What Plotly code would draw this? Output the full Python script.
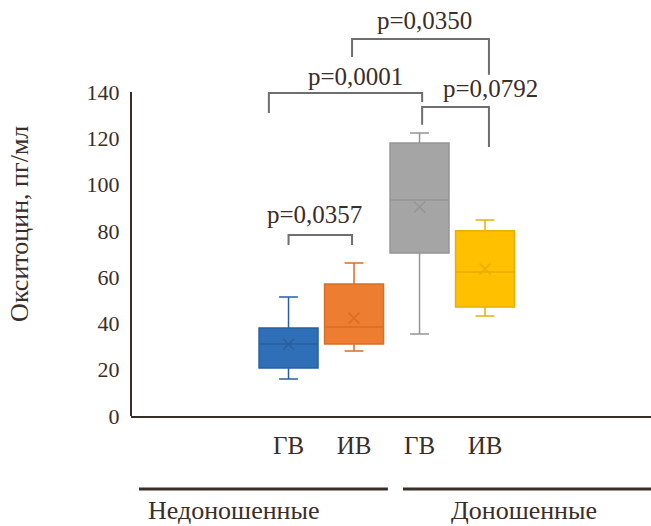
import plotly.graph_objects as go

# ---- data ----
tick_labels = ["ГВ", "ИВ", "ГВ", "ИВ"]
positions = [0, 1, 2, 3]
lower = [16.0, 28.1, 35.4, 43.2]
q1 = [20.7, 31.1, 70.4, 47.1]
median = [31.1, 38.5, 93.3, 62.2]
q3 = [38.0, 57.0, 118.0, 80.0]
upper = [51.4, 66.1, 122.3, 84.7]
means = [31.0, 42.3, 90.3, 63.5]
fills = ["#2E6FB7", "#ED7D31", "#A5A5A5", "#FFC000"]
lines = ["#28609F", "#D96E26", "#959595", "#E8AE05"]

group_names = ["Недоношенные", "Доношенные"]
y_ticks = [0, 20, 40, 60, 80, 100, 120, 140]

# brackets: x0, x1, top, left leg bottom, right leg bottom, label, label x, label y
brackets = [
    (0.0, 0.97, 78.2, 73.9, 73.9, "p=0,0357", 0.40, 86.9),
    (-0.30, 2.04, 139.6, 130.9, 135.7, "p=0,0001", 1.03, 146.6),
    (2.04, 3.06, 133.5, 125.8, 116.2, "p=0,0792", 3.09, 141.7),
    (0.97, 3.06, 162.9, 155.1, 147.4, "p=0,0350", 2.08, 171.1),
]

TXT = "#3A2E28"
FONT = "Liberation Serif, Times New Roman, serif"

fig = go.Figure()
for i in range(4):
    fig.add_trace(go.Box(
        x=[positions[i]], q1=[q1[i]], median=[median[i]], q3=[q3[i]],
        lowerfence=[lower[i]], upperfence=[upper[i]],
        width=0.9, whiskerwidth=0.32, boxpoints=False,
        fillcolor=fills[i], line=dict(color=lines[i], width=1.5),
        showlegend=False, hoverinfo="skip",
    ))
    fig.add_trace(go.Scatter(
        x=[positions[i]], y=[means[i]], mode="markers",
        marker=dict(symbol="x-thin", size=11, line=dict(color=lines[i], width=1.5)),
        showlegend=False, hoverinfo="skip",
    ))

shapes = []
shapes.append(dict(type="line", xref="paper", yref="y", x0=0, x1=0, y0=0, y1=140,
                   line=dict(color=TXT, width=2)))
for (x0, x1, top, lb, rb, lab, lx, ly) in brackets:
    shapes.append(dict(type="path", xref="x", yref="y",
                       path=f"M {x0},{lb} L {x0},{top} L {x1},{top} L {x1},{rb}",
                       line=dict(color="#6E6E6E", width=2)))
shapes.append(dict(type="line", xref="paper", yref="paper", x0=0.0154, x1=0.494,
                   y0=-0.180, y1=-0.180, line=dict(color=TXT, width=3)))
shapes.append(dict(type="line", xref="paper", yref="paper", x0=0.523, x1=1.0,
                   y0=-0.180, y1=-0.180, line=dict(color=TXT, width=3)))

annotations = []
for (x0, x1, top, lb, rb, lab, lx, ly) in brackets:
    annotations.append(dict(x=lx, y=ly, xref="x", yref="y", text=lab, showarrow=False,
                            xanchor="center", yanchor="middle",
                            font=dict(family=FONT, size=25, color=TXT)))
annotations.append(dict(x=0.198, y=-0.233, xref="paper", yref="paper", text=group_names[0],
                        xanchor="center", yanchor="middle",
                        showarrow=False, font=dict(family=FONT, size=26, color=TXT)))
annotations.append(dict(x=0.756, y=-0.233, xref="paper", yref="paper", text=group_names[1],
                        xanchor="center", yanchor="middle",
                        showarrow=False, font=dict(family=FONT, size=26, color=TXT)))
annotations.append(dict(x=-0.2135, y=83, xref="paper", yref="y", text="Окситоцин, пг/мл",
                        textangle=-90, showarrow=False, xanchor="center", yanchor="middle",
                        font=dict(family=FONT, size=26, color=TXT)))

fig.update_layout(
    width=651, height=526,
    margin=dict(l=131, r=0, t=11, b=110),
    paper_bgcolor="white", plot_bgcolor="white",
    boxmode="overlay",
    shapes=shapes, annotations=annotations,
    xaxis=dict(range=[-2.405, 5.534], tickvals=positions, ticktext=tick_labels,
               showgrid=False, zeroline=False, showline=True, linecolor=TXT, linewidth=2,
               ticks="outside", ticklen=6, tickcolor="rgba(0,0,0,0)",
               tickfont=dict(family=FONT, size=25, color=TXT)),
    yaxis=dict(range=[0, 175], tickvals=y_ticks, showgrid=False, zeroline=False,
               showline=False, ticks="outside", ticklen=6, tickcolor="rgba(0,0,0,0)",
               tickfont=dict(family=FONT, size=22, color=TXT)),
)

fig.write_html("out.html", config={"displayModeBar": False},
               post_script="document.body.style.margin='0';document.body.style.overflow='hidden';")
